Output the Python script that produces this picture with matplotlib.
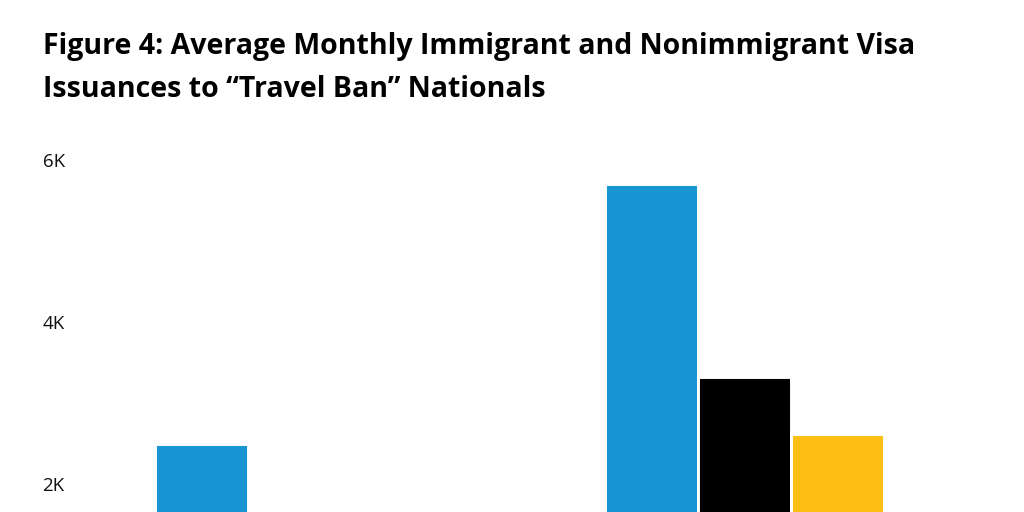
"""
Average monthly immigrant / nonimmigrant visa issuances to travel ban nationals.
Chart is cropped at the bottom, like the reference.
"""
#%% imports

import matplotlib
matplotlib.use("Agg")
import matplotlib.pyplot as plt
import numpy as np

plt.rcParams['font.family'] = ['Open Sans', 'DejaVu Sans']

#%% data

groups = ["Immigrant", "Nonimmigrant"]
series = ["Period 1", "Period 2", "Period 3"]
colors = ["#1896d3", "#000000", "#fdbf14"]

# values per series, one per group (group 1 black/yellow are below the crop)
vals_p1 = [2490, 5700]
vals_p2 = [1400, 3320]
vals_p3 = [1150, 2615]
values = [vals_p1, vals_p2, vals_p3]

yticks = [2000, 4000, 6000]
ytick_labels = ["2K", "4K", "6K"]

#%% figure

W, H, DPI = 1024, 512, 100
fig = plt.figure(figsize=(W / DPI, H / DPI), dpi=DPI)

# axes in pixel terms: left 80 px, top 140 px, bottom runs off the image
ax_l, ax_r, ax_top = 80, 1024, 140
ax = fig.add_axes([ax_l / W, 0, (ax_r - ax_l) / W, (H - ax_top) / H])

px_per_unit_x = 449.0   # pixels between group centres
x0_px = 295.0           # pixel of first group centre
px_per_k = 80.9         # pixels per 1000 on y
y6_px = 160.0           # pixel of the 6K tick

bar_w = 93.0 / px_per_unit_x
x = np.arange(len(groups))
for i, (vals, col) in enumerate(zip(values, colors)):
    ax.bar(x + (i - 1) * bar_w, vals, width=bar_w, color=col,
           edgecolor="white", linewidth=2.1, zorder=2)

ax.set_xlim((ax_l - x0_px) / px_per_unit_x, (ax_r - x0_px) / px_per_unit_x)
ax.set_ylim(6000 - (H - y6_px) / px_per_k * 1000,
            6000 + (y6_px - ax_top) / px_per_k * 1000)

ax.set_yticks(yticks)
ax.set_yticklabels(ytick_labels, fontsize=13.5, color="#111111")
ax.tick_params(axis="y", length=0, pad=11)
ax.set_xticks([])
for sp in ax.spines.values():
    sp.set_visible(False)

#%% title

fig.text(43 / W, 1 - 54 / H, "Figure 4: Average Monthly Immigrant and Nonimmigrant Visa",
         fontsize=20.5, fontweight="bold", ha="left", va="baseline", color="#000000")
fig.text(43 / W, 1 - 97 / H, "Issuances to \u201cTravel Ban\u201d Nationals",
         fontsize=20.5, fontweight="bold", ha="left", va="baseline", color="#000000")

fig.savefig("out.png", dpi=DPI)
